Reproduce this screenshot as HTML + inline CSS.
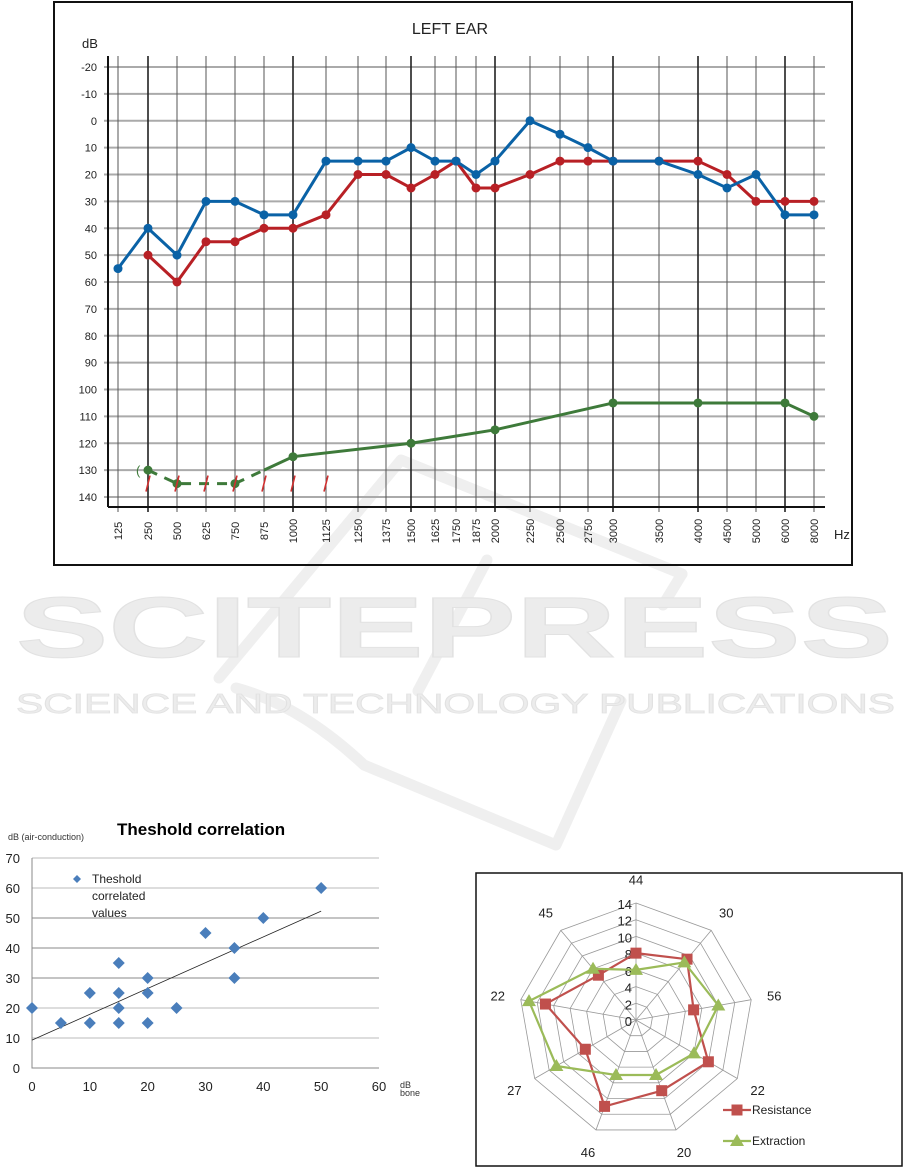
<!DOCTYPE html>
<html><head><meta charset="utf-8"><style>
body{margin:0;background:#fff;width:903px;height:1167px;overflow:hidden}
svg{display:block;font-family:"Liberation Sans",sans-serif}
</style></head><body>
<svg id="s" width="903" height="1167" viewBox="0 0 903 1167">
<g id="wm">
<g fill="none" stroke="#efefef" stroke-width="11" stroke-linecap="round" stroke-linejoin="round">
<polyline points="219,678 401,460 682,574"/>
<polyline points="682,574 663,605"/>
<polyline points="487,560 418,691"/>
<path d="M236,688 Q300,705 364,765 L556,845 L621,701"/>
</g>
<text x="16" y="657" font-size="86" font-weight="bold" fill="#ececec" stroke="#e2e2e2" stroke-width="1" textLength="877" lengthAdjust="spacingAndGlyphs">SCITEPRESS</text>
<text x="16" y="713" font-size="28" fill="#ececec" stroke="#e2e2e2" stroke-width="0.8" textLength="879" lengthAdjust="spacingAndGlyphs">SCIENCE AND TECHNOLOGY PUBLICATIONS</text>
</g>
<rect x="54" y="2" width="798" height="563" fill="none" stroke="#111" stroke-width="2"/>
<text x="450" y="34" font-size="16" text-anchor="middle" fill="#222">LEFT EAR</text>
<text x="82" y="48" font-size="13" fill="#222">dB</text>
<text x="834" y="539" font-size="13" fill="#222">Hz</text>
<g id="aud"></g>
<text x="117" y="835" font-size="17" font-weight="bold" fill="#000">Theshold  correlation</text>
<text x="8" y="840" font-size="9" fill="#333">dB (air-conduction)</text>
<text x="400" y="1088" font-size="9" fill="#333">dB</text>
<text x="400" y="1096" font-size="9" fill="#333">bone</text>
<g id="sc"></g>
<rect x="476" y="873" width="426" height="293" fill="none" stroke="#111" stroke-width="1.5"/>
<g id="rd"></g>
</svg>
<script>
// ---------- Audiogram data ----------
const freqs=["125","250","500","625","750","875","1000","1125","1250","1375","1500","1625","1750","1875","2000","2250","2500","2750","3000","3500","4000","4500","5000","6000","8000"];
const yTicks=[-20,-10,0,10,20,30,40,50,60,70,80,90,100,110,120,130,140];
const blueVals=[55,40,50,30,30,35,35,15,15,15,10,15,15,20,15,0,5,10,15,15,20,25,20,35,35];
const redVals=[null,50,60,45,45,40,40,35,20,20,25,20,15,25,25,20,15,15,15,15,15,20,30,30,30];
const greenFreqs=["250","500","750","875","1000","1500","2000","3000","4000","6000","8000"];
const greenVals=[130,135,135,130,125,120,115,105,105,105,110];
const greenMarked=["250","500","750","1000","1500","2000","3000","4000","6000","8000"];
const slashFreqs=["250","500","625","750","875","1000","1125"];
const slashLevel=135;

const NS="http://www.w3.org/2000/svg";
function mk(parent,tag,attrs){const e=document.createElementNS(NS,tag);for(const k in attrs)e.setAttribute(k,attrs[k]);parent.appendChild(e);return e;}
function colX(i){const L=[118,148,177,206,235,264,293,326,358,386,411,435,456,476,495,530,560,588,613,659,698,727,756,785,814];return L[i];}
function ax(f){return colX(freqs.indexOf(f));}
function ay(v){return 67+(v+20)*2.6875;}
const A=document.getElementById('aud');
yTicks.forEach(t=>{
 const l=mk(A,'line',{x1:104,x2:825,y1:ay(t),y2:ay(t),stroke:'#aaa','stroke-width':2});
 
 
 const tx=mk(A,'text',{x:97,y:ay(t)+4,'font-size':11,'text-anchor':'end',fill:'#222'});tx.textContent=t;
 
 
});
const major=["250","1000","1500","2000","3000","4000","6000"];
freqs.forEach((f,i)=>{
 const x=colX(i);
 const l=mk(A,'line',{x1:x,x2:x,y1:56,y2:512,stroke:major.includes(f)?'#222':'#555','stroke-width':major.includes(f)?1.6:1});
 
 
 const tx=mk(A,'text',{x:0,y:0,'font-size':11,'text-anchor':'middle',fill:'#222',transform:`translate(${x+4},531) rotate(-90)`});tx.textContent=f;
 
 
});
let axl=mk(A,'line',{x1:108,x2:108,y1:56,y2:507,stroke:'#111','stroke-width':2});


axl=mk(A,'line',{x1:108,x2:825,y1:507,y2:507,stroke:'#111','stroke-width':2});


function series(vals,color,name){
 const pts=[];vals.forEach((v,i)=>{if(v!==null)pts.push([colX(i),ay(v)]);});
 const p=mk(A,'polyline',{points:pts.map(p=>p.join(',')).join(' '),fill:'none',stroke:color,'stroke-width':3,'stroke-linejoin':'round'});
 
 
 pts.forEach(q=>{const c=mk(A,'circle',{cx:q[0],cy:q[1],r:4.5,fill:color});
 
 });
}
series(redVals,'#b82025','red-series');
series(blueVals,'#0a62a6','blue-series');
const gp=greenFreqs.map((f,i)=>[ax(f),ay(greenVals[i])]);
const dashPart=gp.slice(0,4),solidPart=gp.slice(3);
let gl=mk(A,'polyline',{points:dashPart.map(p=>p.join(',')).join(' '),fill:'none',stroke:'#3e7a3a','stroke-width':3,'stroke-dasharray':'10,8'});


gl=mk(A,'polyline',{points:solidPart.map(p=>p.join(',')).join(' '),fill:'none',stroke:'#3e7a3a','stroke-width':3});


greenMarked.forEach(f=>{const i=greenFreqs.indexOf(f);const c=mk(A,'circle',{cx:ax(f),cy:ay(greenVals[i]),r:4.5,fill:'#3e7a3a'});
 
 });
const br=mk(A,'text',{x:ax("250")-12,y:ay(greenVals[0])+5,'font-size':13,fill:'#3e7a3a'});br.textContent='(';


slashFreqs.forEach(f=>{const x=ax(f),y=ay(slashLevel);const l=mk(A,'line',{x1:x-2,y1:y+8,x2:x+2,y2:y-8,stroke:'#d03030','stroke-width':1.6});
 
 });

// ---------- Scatter data ----------
const scX=[0,5,10,10,15,15,15,15,20,20,20,25,30,35,35,40,50];
const scY=[20,15,25,15,35,25,20,15,30,25,15,20,45,40,30,50,60];
const scXTicks=[0,10,20,30,40,50,60];
const scYTicks=[0,10,20,30,40,50,60,70];
const trendStart=[0,9.3],trendEnd=[50,52.3];
const S=document.getElementById('sc');
function sx(v){return 32+v*5.783;}
function sy(v){return 1068-v*3.0;}
scYTicks.forEach(t=>{
 if(t>0){const l=mk(S,'line',{x1:32,x2:379,y1:sy(t),y2:sy(t),stroke:(t>=30&&t<=50)?'#888':'#bbb','stroke-width':1});
 
 }
 const tx=mk(S,'text',{x:20,y:sy(t)+5,'font-size':13,'text-anchor':'end',fill:'#222'});tx.textContent=t;
 
 
});
scXTicks.forEach(t=>{const tx=mk(S,'text',{x:sx(t),y:1091,'font-size':13,'text-anchor':'middle',fill:'#222'});tx.textContent=t;
 
 });
let sl=mk(S,'polyline',{points:`32,858 32,1068 379,1068`,fill:'none',stroke:'#888','stroke-width':1});


sl=mk(S,'line',{x1:sx(trendStart[0]),y1:sy(trendStart[1]),x2:sx(trendEnd[0]),y2:sy(trendEnd[1]),stroke:'#222','stroke-width':0.8});


function diamond(x,y,r){return `${x},${y-r} ${x+r},${y} ${x},${y+r} ${x-r},${y}`;}
scX.forEach((v,i)=>{const d=mk(S,'polygon',{points:diamond(sx(v),sy(scY[i]),6),fill:'#4a7ebb'});
 
 });
const lg=mk(S,'polygon',{points:diamond(77,879,4),fill:'#4a7ebb'});


["Theshold","correlated","values"].forEach((t,i)=>{const tx=mk(S,'text',{x:92,y:883+i*17,'font-size':12,fill:'#222'});tx.textContent=t;
 
 });

// ---------- Radar data ----------
const rdCats=["44","30","56","22","20","46","27","22","45"];
const rdTicks=[0,2,4,6,8,10,12,14];
const resistance=[8,9.5,7,10,9,11,7,11,7];
const extraction=[6,9,10,8,7,7,11,13,8];
const R=document.getElementById('rd');
const cx=636,cy=1020,rMax=117,vMax=14;
function rp(i,v){const a=-Math.PI/2+i*2*Math.PI/rdCats.length;const r=v/vMax*rMax;return [cx+r*Math.cos(a),cy+r*Math.sin(a)];}
rdTicks.slice(1).forEach(t=>{const pts=rdCats.map((c,i)=>rp(i,t).join(',')).join(' ');
 const p=mk(R,'polygon',{points:pts,fill:'none',stroke:'#999','stroke-width':0.8});
 
 });
rdCats.forEach((c,i)=>{const e=rp(i,vMax);const l=mk(R,'line',{x1:cx,y1:cy,x2:e[0],y2:e[1],stroke:'#999','stroke-width':0.8});
 
 
 const q=rp(i,vMax*1.2);const tx=mk(R,'text',{x:q[0],y:q[1]+5,'font-size':13,'text-anchor':'middle',fill:'#222'});tx.textContent=c;
 
 });
rdTicks.forEach(t=>{const q=rp(0,t);const tx=mk(R,'text',{x:q[0]-4,y:q[1]+6,'font-size':13,'text-anchor':'end',fill:'#222'});tx.textContent=t;
 
 });
function rseries(vals,color,name,tri){
 const pts=vals.map((v,i)=>rp(i,v));
 const p=mk(R,'polygon',{points:pts.map(q=>q.join(',')).join(' '),fill:'none',stroke:color,'stroke-width':2.2});
 
 
 pts.forEach(q=>{let m;
  if(tri)m=mk(R,'polygon',{points:`${q[0]},${q[1]-7} ${q[0]+7},${q[1]+5} ${q[0]-7},${q[1]+5}`,fill:color});
  else m=mk(R,'rect',{x:q[0]-5.5,y:q[1]-5.5,width:11,height:11,fill:color});
  
  });
}
rseries(resistance,'#c0504d','resistance',false);
rseries(extraction,'#9bbb59','extraction',true);
[["Resistance",'#c0504d',1110,false],["Extraction",'#9bbb59',1141,true]].forEach(L=>{
 const l=mk(R,'line',{x1:723,x2:751,y1:L[2],y2:L[2],stroke:L[1],'stroke-width':2.2});
 
 
 let m;
 if(L[3])m=mk(R,'polygon',{points:`737,${L[2]-7} 744,${L[2]+5} 730,${L[2]+5}`,fill:L[1]});
 else m=mk(R,'rect',{x:731.5,y:L[2]-5.5,width:11,height:11,fill:L[1]});
 
 
 const tx=mk(R,'text',{x:752,y:L[2]+4,'font-size':12,fill:'#222'});tx.textContent=L[0];
 
 
});
</script>
</body></html>
